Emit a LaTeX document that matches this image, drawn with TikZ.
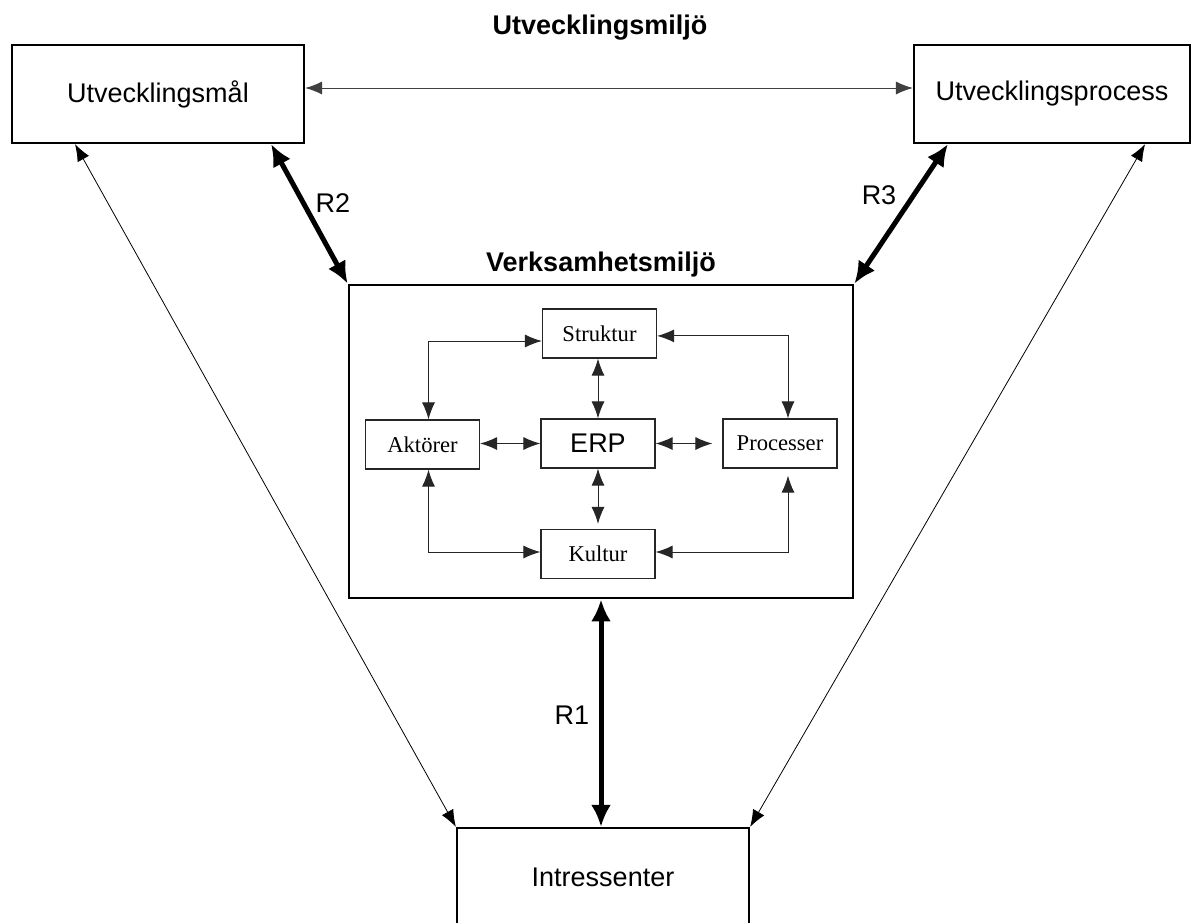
\documentclass[tikz,border=0pt]{standalone}
\usepackage{fontspec}
\setmainfont{Liberation Sans}
\newfontfamily\timesfont{Liberation Serif}
\usetikzlibrary{arrows.meta}

\begin{document}
\begin{tikzpicture}[x=0.5pt,y=-0.5pt,
    bigbox/.style={draw,line width=1.1pt,inner sep=0pt,minimum width=146pt,minimum height=49pt,font=\fontsize{13.5}{16}\selectfont},
    smallbox/.style={draw,black!85,text=black,line width=0.6pt,inner sep=0pt,minimum width=57pt,minimum height=24.5pt,font=\timesfont\fontsize{11.3}{13}\selectfont},
    thinarr/.style={<->,>={Latex[length=8.5pt,width=6.5pt]},line width=0.5pt},
    thickarr/.style={<->,>={Latex[length=11pt,width=10pt]},line width=2.5pt},
    lbl/.style={font=\fontsize{13.5}{16}\selectfont}]
    \clip (0,0) rectangle (1200,922);
    \node[lbl,font=\bfseries\fontsize{13.5}{16}\selectfont] (t1) at (600,28) {Utvecklingsmiljö};
    \node[lbl,font=\bfseries\fontsize{13.5}{16}\selectfont] (t2) at (601,265) {Verksamhetsmiljö};
    \node[bigbox] (maal) at (158,94) {Utvecklingsmål};
    \node[bigbox,minimum width=138pt] (utvproc) at (1052,94) {Utvecklingsprocess};
    \node[bigbox] (intr) at (603,877) {Intressenter};
    \node[draw,line width=1.4pt,inner sep=0pt,minimum width=252pt,minimum height=156.5pt] (verk) at (601,441.5) {};
    \node[smallbox] (struk) at (599.5,333.5) {Struktur};
    \node[smallbox] (akt) at (422.5,444.5) {Aktörer};
    \node[smallbox,font=\fontsize{13.5}{16}\selectfont] (erp) at (598,443.5) {ERP};
    \node[smallbox] (procs) at (780,443.5) {Processer};
    \node[smallbox] (kult) at (598,554) {Kultur};
    \draw[thinarr,black!75] ([yshift=3pt]maal.east) -- ([yshift=3pt]utvproc.west);
    \draw[thinarr,line width=0.4pt] ([xshift=-41.5pt]maal.south) -- (intr.north west);
    \draw[thinarr,line width=0.4pt] ([xshift=-23pt]utvproc.south east) -- (intr.north east);
    \draw[thickarr] ([xshift=-17pt]maal.south east) -- (verk.north west);
    \draw[thickarr] ([xshift=17.5pt]utvproc.south west) -- (verk.north east);
    \draw[thickarr] (verk.south) -- (verk.south |- intr.north);
    \node[lbl] (r2) at (333,203) {R2};
    \node[lbl] (r3) at (879,195) {R3};
    \node[lbl] (r1) at (572,715) {R1};
    \draw[thinarr,black!85] ([yshift=-3.75pt]struk.west) -| ([xshift=3pt]akt.north);
    \draw[thinarr,black!85] ([yshift=-1.2pt]struk.east) -| ([xshift=4pt]procs.north);
    \draw[thinarr,black!85] ([xshift=3pt]akt.south) |- ([yshift=1pt]kult.west);
    \draw[thinarr,black!85,shorten <=3.5pt] ([xshift=4pt]procs.south) |- ([yshift=1pt]kult.east);
    \draw[thinarr,black!85] (struk.south -| erp.north) -- (erp.north);
    \draw[thinarr,black!85,shorten >=2.5pt] (erp) -- (kult);
    \draw[thinarr,black!85] (akt.east |- erp.west) -- (erp.west);
    \draw[thinarr,black!85,shorten >=5pt] (erp) -- (procs);
\end{tikzpicture}
\end{document}
